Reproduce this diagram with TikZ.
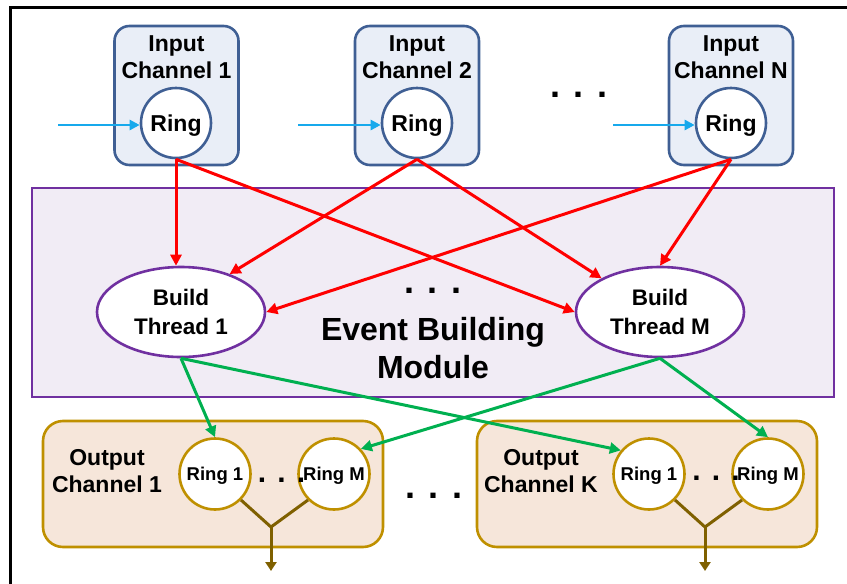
\documentclass[tikz,border=0pt]{standalone}
\usepackage{fontspec}
\setmainfont{Liberation Sans}
\usetikzlibrary{arrows.meta,shapes.geometric,positioning}

\definecolor{inblue}{HTML}{3F5F94}
\definecolor{infill}{HTML}{E9EEF7}
\definecolor{ebpurple}{HTML}{7030A0}
\definecolor{ebfill}{HTML}{F1ECF5}
\definecolor{outgold}{HTML}{BF9000}
\definecolor{outfill}{HTML}{F6E6DA}
\definecolor{mergebrown}{HTML}{7F6000}
\definecolor{feedblue}{HTML}{17A9EC}
\definecolor{redline}{HTML}{FF0000}
\definecolor{greenline}{HTML}{00B050}

\tikzset{
  inbox/.style={draw=inblue, fill=infill, line width=2.6pt, rounded corners=15pt,
    minimum width=124pt, minimum height=139pt},
  inring/.style={circle, draw=inblue, fill=white, line width=2.6pt, minimum size=70pt,
    inner sep=0pt, text depth=0pt, font=\bfseries\fontsize{23}{27}\selectfont},
  thread/.style={ellipse, draw=ebpurple, fill=white, line width=2.6pt, minimum width=168pt,
    minimum height=90pt, inner sep=0pt, align=center, font=\bfseries\fontsize{22.5}{29}\selectfont},
  outbox/.style={draw=outgold, fill=outfill, line width=2.6pt, rounded corners=20pt,
    minimum width=340pt, minimum height=126pt},
  outring/.style={circle, draw=outgold, fill=white, line width=2.6pt, minimum size=71pt,
    inner sep=0pt, text depth=0pt, font=\bfseries\fontsize{18.5}{22}\selectfont},
  boxlabel/.style={align=center, inner sep=0pt, font=\bfseries\fontsize{23}{27}\selectfont},
  dots/.style={inner sep=0pt, font=\bfseries\fontsize{36}{36}\selectfont},
  smalldots/.style={inner sep=0pt, font=\bfseries\fontsize{30}{30}\selectfont},
  feed/.style={draw=feedblue, line width=2.4pt, -{Triangle[length=10pt,width=10pt]}},
  redarrow/.style={draw=redline, line width=3pt, -{Triangle[length=11pt,width=11pt]}},
  greenarrow/.style={draw=greenline, line width=3pt, -{Triangle[length=11pt,width=11pt]}},
  merge/.style={draw=mergebrown, line width=3pt}
}

\begin{document}
\begin{tikzpicture}[x=1pt, y=-1pt]

\useasboundingbox (0,0) rectangle (847,584);

\def\yin{95.5}; % input boxes
\def\yring{123}; % input rings
\def\yth{312}; % build threads
\def\yout{484}; % output boxes
\def\yoring{474}; % output rings

% frame
\draw[line width=3pt] (10.5,584) -- (10.5,7.5) -- (847,7.5);

% event building module
\node[draw=ebpurple, fill=ebfill, line width=2.6pt, minimum width=802pt, minimum height=209pt,
  inner sep=0pt] (ebm) at (433,292.5) {};
\node[dots] (ebdots) at (433,291) {. . .};
\node[align=center, inner sep=0pt, font=\bfseries\fontsize{32}{38}\selectfont] (ebtext)
  at (433,348) {Event Building\\Module};

% input channels
\node[inbox] (in1) at (176.5,\yin) {};
\node[inbox] (in2) at (417,\yin) {};
\node[inbox] (inN) at (731,\yin) {};
\node[boxlabel] at (176.5,57.5) {Input\\Channel 1};
\node[boxlabel] at (417,57.5) {Input\\Channel 2};
\node[boxlabel] at (731,57.5) {Input\\Channel N};
\node[inring] (r1) at (176,\yring) {Ring};
\node[inring] (r2) at (417,\yring) {Ring};
\node[inring] (rN) at (731,\yring) {Ring};
\node[dots] (indots) at (579,95) {. . .};

\coordinate (f1) at (58,125);
\coordinate (f2) at (298,125);
\coordinate (fN) at (613,125);
\draw[feed] (f1) -- (f1 -| r1.west);
\draw[feed] (f2) -- (f2 -| r2.west);
\draw[feed] (fN) -- (fN -| rN.west);

% build threads
\node[thread] (bt1) at (181,\yth) {Build\\Thread 1};
\node[thread] (btM) at (660,\yth) {Build\\Thread M};

% output channels
\node[outbox] (out1) at (213,\yout) {};
\node[outbox] (outK) at (647,\yout) {};
\node[boxlabel] at (107,471.5) {Output\\Channel 1};
\node[boxlabel] at (541,471.5) {Output\\Channel K};
\node[outring] (o11) at (215,\yoring) {Ring 1};
\node[outring] (o1M) at (334,\yoring) {Ring M};
\node[outring] (oK1) at (649,\yoring) {Ring 1};
\node[outring] (oKM) at (768,\yoring) {Ring M};
\node[smalldots] at (281.5,480) {. . .};
\node[smalldots] at (716,478) {. . .};
\node[dots] (outdots) at (434,496) {. . .};

% merged output
\coordinate (j1) at (271,527);
\coordinate (e1) at (271,571);
\coordinate (jK) at (705,527);
\coordinate (eK) at (705,571);
\draw[merge] (o11.-45) -- (j1) -- (o1M.-135);
\draw[merge, -{Triangle[length=9pt,width=11pt]}] (j1) -- (e1);
\draw[merge] (oK1.-45) -- (jK) -- (oKM.-135);
\draw[merge, -{Triangle[length=9pt,width=11pt]}] (jK) -- (eK);

% rings to threads
\draw[redarrow] (r1.south) -- (r1.south |- bt1.north);
\draw[redarrow] (r1.south) -- (btM.west);
\draw[redarrow] (r2.south) -- (bt1.38);
\draw[redarrow] (r2.south) -- (btM.150);
\draw[redarrow] (rN.south) -- (bt1.east);
\draw[redarrow] (rN.south) -- (btM.north);

% threads to output rings
\draw[greenarrow] (bt1.south) -- (o11.north);
\draw[greenarrow] (bt1.south) -- (oK1.140);
\draw[greenarrow] (btM.south) -- (o1M.43);
\draw[greenarrow] (btM.south) -- (oKM.north);

\end{tikzpicture}
\end{document}
